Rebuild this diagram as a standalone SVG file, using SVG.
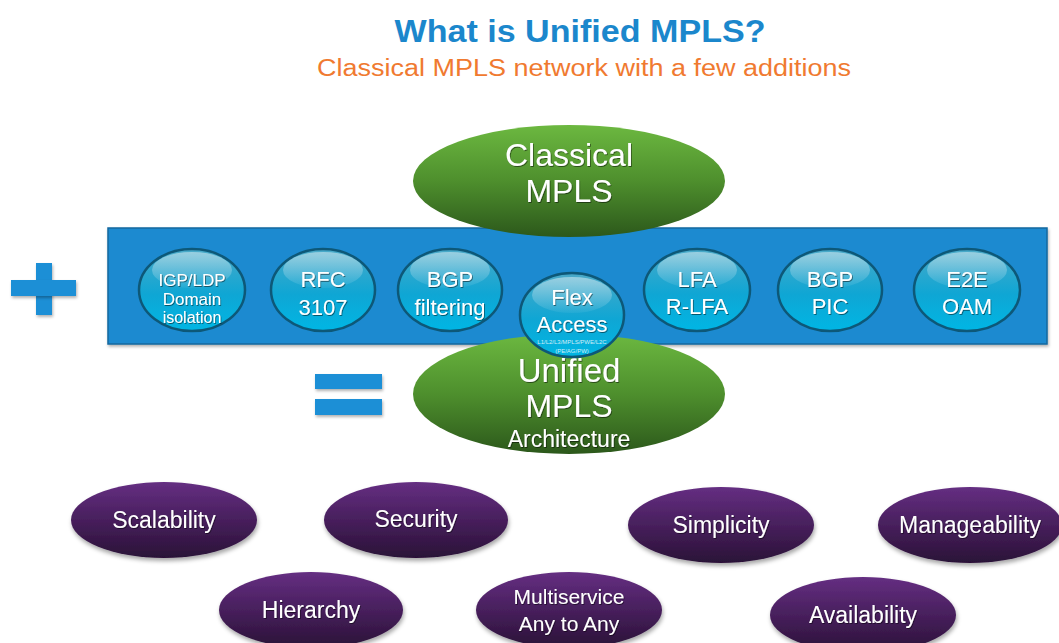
<svg xmlns="http://www.w3.org/2000/svg" width="1059" height="643" viewBox="0 0 1059 643">
<style>
text{font-family:"Liberation Sans",Arial,sans-serif;text-anchor:middle}
.w{fill:#ffffff;filter:url(#ts)}
.bt{font-size:22px}
.gt{font-size:32px}
.pt{font-size:23px}
.bub{fill:url(#gBub);stroke:#0d5878;stroke-width:2.5}
.hl{fill:url(#gHl)}
.grn{fill:url(#gGreen)}
.pur{fill:url(#gPur);filter:url(#ds)}
.sym{fill:#1d8fd6;filter:url(#ds2)}
</style>
<defs>
<linearGradient id="gBub" x1="0" y1="0" x2="0" y2="1">
<stop offset="0" stop-color="#4aa9c8"/>
<stop offset="0.55" stop-color="#0fa6d4"/>
<stop offset="1" stop-color="#00b6e4"/>
</linearGradient>
<linearGradient id="gHl" x1="0" y1="0" x2="0" y2="1">
<stop offset="0" stop-color="#ffffff" stop-opacity="0.45"/>
<stop offset="1" stop-color="#ffffff" stop-opacity="0.05"/>
</linearGradient>
<linearGradient id="gGreen" x1="0" y1="0" x2="0" y2="1">
<stop offset="0" stop-color="#6cb840"/>
<stop offset="0.5" stop-color="#4e8f2d"/>
<stop offset="1" stop-color="#2c581b"/>
</linearGradient>
<linearGradient id="gPur" x1="0" y1="0" x2="0" y2="1">
<stop offset="0" stop-color="#652e82"/>
<stop offset="1" stop-color="#2a1137"/>
</linearGradient>
<filter id="ts" x="-20%" y="-20%" width="140%" height="160%">
<feDropShadow dx="0.8" dy="1" stdDeviation="0.6" flood-color="#000" flood-opacity="0.5"/>
</filter>
<filter id="ds" x="-20%" y="-20%" width="140%" height="150%">
<feDropShadow dx="1" dy="3" stdDeviation="2" flood-color="#000" flood-opacity="0.35"/>
</filter>
<filter id="ds2" x="-20%" y="-20%" width="140%" height="160%">
<feDropShadow dx="1" dy="2" stdDeviation="1.5" flood-color="#000" flood-opacity="0.3"/>
</filter>
</defs>

<rect width="1059" height="643" fill="#ffffff"/>

<g id="title">
<text x="580" y="42" font-size="32" font-weight="bold" fill="#1b87cc" textLength="371" lengthAdjust="spacingAndGlyphs">What is Unified MPLS?</text>
<text x="584" y="76" font-size="23" fill="#f07a30" textLength="534" lengthAdjust="spacingAndGlyphs">Classical MPLS network with a few additions</text>
</g>

<g id="plus">
<rect class="sym" x="36" y="263" width="16" height="52"/>
<rect class="sym" x="11" y="280" width="65" height="16"/>
</g>
<g id="equals">
<rect class="sym" x="315" y="374" width="67" height="15"/>
<rect class="sym" x="315" y="399" width="67" height="16"/>
</g>

<g id="band">
<rect x="108" y="228" width="939" height="116" fill="#1b8ad0" stroke="#13679e" stroke-width="1.5" filter="url(#ds2)"/>
</g>

<g id="classical">
<ellipse class="grn" cx="569" cy="181" rx="156" ry="56"/>
<text class="w gt" x="569" y="166">Classical</text>
<text class="w gt" x="569" y="202">MPLS</text>
</g>

<g id="unified">
<ellipse class="grn" cx="569" cy="394" rx="156" ry="60"/>
<text class="w" x="569" y="382" font-size="33">Unified</text>
<text class="w gt" x="569" y="417">MPLS</text>
<text class="w" x="569" y="447" font-size="23">Architecture</text>
</g>

<g id="igp">
<ellipse class="bub" cx="192" cy="290" rx="53" ry="41"/>
<ellipse class="hl" cx="192" cy="270" rx="40" ry="18"/>
<text class="w" x="192" y="286" font-size="17">IGP/LDP</text>
<text class="w" x="192" y="305" font-size="17">Domain</text>
<text class="w" x="192" y="323" font-size="16">isolation</text>
</g>
<g id="rfc">
<ellipse class="bub" cx="323" cy="290" rx="52" ry="41"/>
<ellipse class="hl" cx="323" cy="270" rx="40" ry="18"/>
<text class="w bt" x="323" y="287">RFC</text>
<text class="w bt" x="323" y="315">3107</text>
</g>
<g id="bgpf">
<ellipse class="bub" cx="450" cy="290" rx="52" ry="41"/>
<ellipse class="hl" cx="450" cy="270" rx="40" ry="18"/>
<text class="w bt" x="450" y="287">BGP</text>
<text class="w bt" x="450" y="315">filtering</text>
</g>
<g id="flex">
<ellipse class="bub" cx="572" cy="315" rx="52" ry="42"/>
<ellipse class="hl" cx="572" cy="295" rx="40" ry="18"/>
<text class="w bt" x="572" y="305">Flex</text>
<text class="w bt" x="572" y="332">Access</text>
<text x="572" y="344" font-size="6" fill="#cfeef8">L1/L2/L3/MPLS/PWE/L2C</text>
<text x="572" y="353" font-size="6" fill="#cfeef8">(PE/AG/PW)</text>
</g>
<g id="lfa">
<ellipse class="bub" cx="697" cy="290" rx="53" ry="41"/>
<ellipse class="hl" cx="697" cy="270" rx="40" ry="18"/>
<text class="w bt" x="697" y="287">LFA</text>
<text class="w bt" x="697" y="314">R-LFA</text>
</g>
<g id="bgppic">
<ellipse class="bub" cx="830" cy="290" rx="52" ry="41"/>
<ellipse class="hl" cx="830" cy="270" rx="40" ry="18"/>
<text class="w bt" x="830" y="287">BGP</text>
<text class="w bt" x="830" y="314">PIC</text>
</g>
<g id="e2e">
<ellipse class="bub" cx="967" cy="290" rx="53" ry="41"/>
<ellipse class="hl" cx="967" cy="270" rx="40" ry="18"/>
<text class="w bt" x="967" y="287">E2E</text>
<text class="w bt" x="967" y="314">OAM</text>
</g>

<g id="scalability">
<ellipse class="pur" cx="164" cy="520" rx="93" ry="38"/>
<text class="w pt" x="164" y="528">Scalability</text>
</g>
<g id="security">
<ellipse class="pur" cx="416" cy="520" rx="92" ry="38"/>
<text class="w pt" x="416" y="527">Security</text>
</g>
<g id="simplicity">
<ellipse class="pur" cx="721" cy="525" rx="93" ry="38"/>
<text class="w pt" x="721" y="533">Simplicity</text>
</g>
<g id="manageability">
<ellipse class="pur" cx="970" cy="525" rx="92" ry="38"/>
<text class="w pt" x="970" y="533">Manageability</text>
</g>
<g id="hierarchy">
<ellipse class="pur" cx="311" cy="610" rx="92" ry="38"/>
<text class="w pt" x="311" y="618">Hierarchy</text>
</g>
<g id="multiservice">
<ellipse class="pur" cx="569" cy="610" rx="93" ry="38"/>
<text class="w" x="569" y="604" font-size="21">Multiservice</text>
<text class="w" x="569" y="631" font-size="21">Any to Any</text>
</g>
<g id="availability">
<ellipse class="pur" cx="863" cy="615" rx="93" ry="38"/>
<text class="w pt" x="863" y="623">Availability</text>
</g>

<g id="connectors"></g>
</svg>
